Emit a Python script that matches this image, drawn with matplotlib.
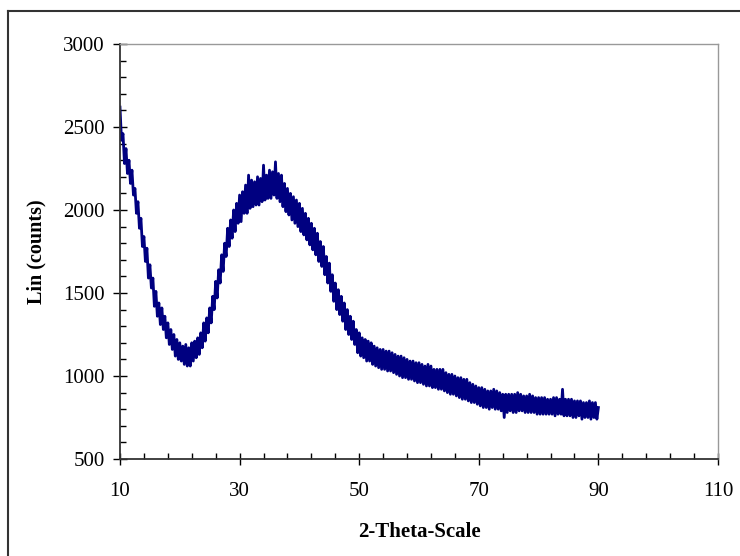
import numpy as np
import matplotlib
matplotlib.use('Agg')
from matplotlib import pyplot as plt
from matplotlib.ticker import FixedLocator
from matplotlib.lines import Line2D

# scan: 2-theta start / step, intensities every 0.25 deg
theta_start = 10.0
theta_step = 0.25
counts = [
    2620, 2420, 2460, 2280,  2370, 2220, 2300, 2160,  2240, 2090, 2130, 1980,   # 10-12
    2050, 1890, 1950, 1780,  1840, 1690, 1770, 1590,  1670, 1530, 1590, 1420,   # 13-15
    1510, 1360, 1440, 1310,  1410, 1280, 1360, 1230,  1320, 1190, 1280, 1160,   # 16-18
    1250, 1120, 1220, 1100,  1200, 1090, 1180, 1070,  1190, 1060, 1170, 1060,   # 19-21
    1200, 1090, 1210, 1110,  1230, 1130, 1260, 1170,  1320, 1210, 1350, 1260,   # 22-24
    1410, 1320, 1480, 1400,  1570, 1470, 1640, 1560,  1730, 1630, 1800, 1720,   # 25-27
    1890, 1780, 1940, 1830,  2000, 1870, 2040, 1920,  2090, 1930, 2110, 1980,   # 28-30
    2150, 1980, 2210, 2010,  2180, 2020, 2170, 2030,  2200, 2030, 2190, 2050,   # 31-33
    2270, 2060, 2210, 2070,  2240, 2070, 2230, 2090,  2290, 2070, 2220, 2050,   # 34-36
    2210, 2020, 2160, 1990,  2130, 1970, 2100, 1940,  2080, 1920, 2060, 1900,   # 37-39
    2040, 1870, 2010, 1850,  1980, 1820, 1950, 1790,  1920, 1760, 1890, 1730,   # 40-42
    1860, 1690, 1810, 1660,  1780, 1610, 1720, 1560,  1680, 1510, 1610, 1450,   # 43-45
    1560, 1400, 1520, 1370,  1480, 1330, 1440, 1280,  1400, 1250, 1360, 1220,   # 46-48
    1330, 1190, 1280, 1140,  1260, 1120, 1230, 1110,  1220, 1090, 1210, 1090,   # 49-51
    1200, 1070, 1180, 1060,  1170, 1050, 1160, 1040,  1160, 1040, 1150, 1030,   # 52-54
    1150, 1030, 1140, 1020,  1130, 1010, 1120, 1000,  1120, 990, 1110, 990,     # 55-57
    1100, 980, 1090, 980,    1090, 970, 1080, 960,    1080, 960, 1070, 950,     # 58-60
    1060, 940, 1070, 940,    1060, 930, 1040, 930,    1040, 920, 1040, 920,     # 61-63
    1040, 910, 1020, 900,    1010, 890, 1010, 890,    1000, 880, 990, 870,      # 64-66
    990, 860, 980, 860,      980, 850, 960, 840,      950, 840, 940, 830,       # 67-69
    930, 820, 930, 810,      920, 810, 910, 800,      910, 810, 920, 800,       # 70-72
    910, 800, 900, 790,      890, 750, 890, 780,      890, 790, 890, 780,       # 73-75
    890, 780, 900, 790,      890, 790, 880, 780,      880, 780, 890, 780,       # 76-78
    880, 780, 870, 770,      870, 770, 870, 770,      870, 770, 860, 770,       # 79-81
    860, 770, 870, 760,      870, 770, 860, 770,      920, 760, 860, 760,       # 82-84
    860, 760, 860, 750,      850, 750, 850, 760,      850, 740, 840, 750,       # 85-87
    840, 750, 850, 740,      840, 750, 840, 740,                                # 88-89
    810,                                                                        # 90
]
theta = theta_start + theta_step * np.arange(len(counts))

x_major = [10, 30, 50, 70, 90, 110]
x_minor = list(range(14, 110, 4))

fig = plt.figure(figsize=(7.4, 5.56), dpi=100)
plt.rcParams['font.family'] = ['Liberation Serif', 'DejaVu Serif']

# outer chart-area border (only left and top edges are inside the picture)
fig.add_artist(Line2D([8/740, 8/740], [0, 1 - 11/556], color='#333333', lw=1.5))
fig.add_artist(Line2D([8/740, 1], [1 - 11/556, 1 - 11/556], color='#333333', lw=1.5))

ax = fig.add_axes([120/740, 1 - 459/556, 598/740, 415/556])
ax.plot(theta, counts, color='#000080', lw=2.0)

ax.set_xlim(10, 110)
ax.set_ylim(500, 3000)
ax.xaxis.set_major_locator(FixedLocator(x_major))
ax.xaxis.set_minor_locator(FixedLocator(x_minor))
ax.yaxis.set_major_locator(FixedLocator(np.arange(500, 3001, 500)))
ax.yaxis.set_minor_locator(FixedLocator(np.arange(600, 3000, 100)))

ax.tick_params(axis='x', which='major', direction='inout', length=9, width=1, pad=12, labelsize=15)
ax.tick_params(axis='y', which='major', direction='inout', length=10, width=1, pad=6, labelsize=15)
ax.tick_params(which='minor', direction='in', length=4, width=1)

for s in ['left', 'bottom']:
    ax.spines[s].set_color('#333333')
    ax.spines[s].set_linewidth(1.3)
for s in ['top', 'right']:
    ax.spines[s].set_color('#999999')
    ax.spines[s].set_linewidth(1.0)

ax.set_xlabel('2-Theta-Scale', fontsize=15, fontweight='bold', labelpad=15)
ax.set_ylabel('Lin (counts)', fontsize=14.5, fontweight='bold', labelpad=12)

fig.savefig('out.png', dpi=100)
